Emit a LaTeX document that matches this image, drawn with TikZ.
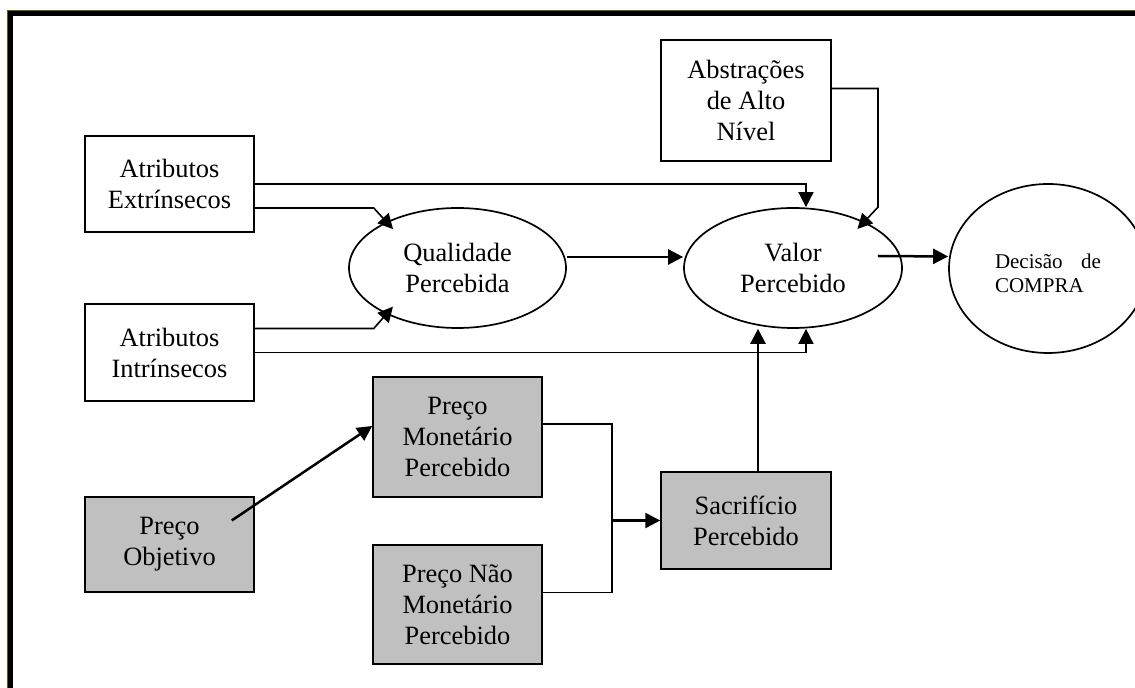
\documentclass[tikz,border=0pt]{standalone}
\usepackage{fontspec}
\setmainfont{Liberation Serif}
\usepackage{tikz}
\usetikzlibrary{shapes.geometric,arrows.meta}
\definecolor{boxgrey}{RGB}{192,192,192}
\definecolor{frameolive}{RGB}{96,96,0}

\begin{document}
\begin{tikzpicture}[x=0.5pt,y=-0.5pt,>={Triangle[length=7.5pt,width=7.5pt]},
    font=\fontsize{13.2}{15.5}\selectfont]
    \tikzstyle{box}=[rectangle,draw=black,line width=0.75pt,align=center,inner sep=0pt,minimum width=84.5pt]
    \tikzstyle{grey box}=[box,fill=boxgrey];
    \tikzstyle{oval}=[ellipse,draw=black,line width=0.85pt,align=center,inner sep=0pt];
    \tikzstyle{link}=[line width=0.8pt];
    \tikzstyle{main link}=[line width=1.25pt];

    \useasboundingbox[fill=white] (0,0) rectangle (1135,688);

    % Draw the frame (only top and left edges are in view)
    \draw[frameolive,line width=2.5pt] (9.5,688) -- (9.5,12.5) -- (1135,12.5);
    \draw[line width=2.5pt] (10.5,688) -- (10.5,13.5) -- (1135,13.5);

    % Draw the attribute and price boxes
    \node[box,minimum height=48pt] (ext) at (169.5,184) {Atributos\\Extrínsecos};
    \node[box,minimum height=48.5pt] (int) at (169.5,352.5) {Atributos\\Intrínsecos};
    \node[grey box,minimum height=47.5pt] (obj) at (169.5,544.5) {Preço\\Objetivo};
    \node[grey box,minimum height=60pt] (mon) at (457.5,437) {Preço\\Monetário\\Percebido};
    \node[grey box,minimum height=59.5pt] (nmon) at (457.5,604.5) {Preço Não\\Monetário\\Percebido};
    \node[grey box,minimum width=85pt,minimum height=48.5pt] (sac) at (746,520.5) {Sacrifício\\Percebido};
    \node[box,minimum width=85pt,minimum height=60.5pt] (abs) at (746,100.5) {Abstrações\\de Alto\\Nível};

    % Draw the perceived quality, value and decision ovals
    \node[oval,minimum width=108.5pt,minimum height=60pt] (qual) at (457.5,268) {Qualidade\\Percebida};
    \node[oval,minimum width=109pt,minimum height=60pt] (val) at (793,268) {Valor\\Percebido};
    \begin{scope}
        \clip (900,150) rectangle (1135,400);
        \node[oval,minimum width=99pt,minimum height=84.5pt,text width=53pt,align=left,
            font=\fontsize{10.5}{12}\selectfont] (dec) at (1048,268.5)
            {\rule{0pt}{12.5pt}\makebox[53pt][l]{Decisão\hfill de}\\COMPRA};
    \end{scope}

    % Connect the attributes to quality and value
    \draw[link,->] (ext.east) -| ([xshift=6.5pt]val.north);
    \draw[link,->,shorten >=-5pt] ([yshift=-12pt]ext.east) -- ++(119,0) -- (qual.147);
    \draw[link,->,shorten >=-5pt] ([yshift=12pt]int.east) -- ++(119,0) -- (qual.213);
    \draw[link,->] (int.east) -| ([xshift=6.5pt]val.south);
    \draw[link,->,shorten >=-5pt] ([yshift=6pt]abs.east) -| ([xshift=42.5pt]val.north) -- (val.33);

    % Quality to value to decision
    \draw[main link,->] ([yshift=5.5pt]qual.east) -- ([yshift=5.5pt]val.west);
    \draw[main link,->] ([xshift=-12.5pt,yshift=6pt]val.east) -- ([yshift=6pt]dec.west);

    % Price side
    \draw[main link,->] ([xshift=-11.5pt,yshift=12pt]obj.east) -- ([yshift=5.5pt]mon.west);
    \coordinate (join) at ([xshift=-24pt]sac.west);
    \draw[link] ([yshift=6.5pt]mon.east) -| (join) |- ([yshift=6pt]nmon.east);
    \draw[main link,->] (join) -- (sac.west);
    \coordinate (sacup) at ([xshift=6pt]sac.north);
    \draw[main link,->] (sacup) -- (sacup |- val.south);
\end{tikzpicture}
\end{document}
